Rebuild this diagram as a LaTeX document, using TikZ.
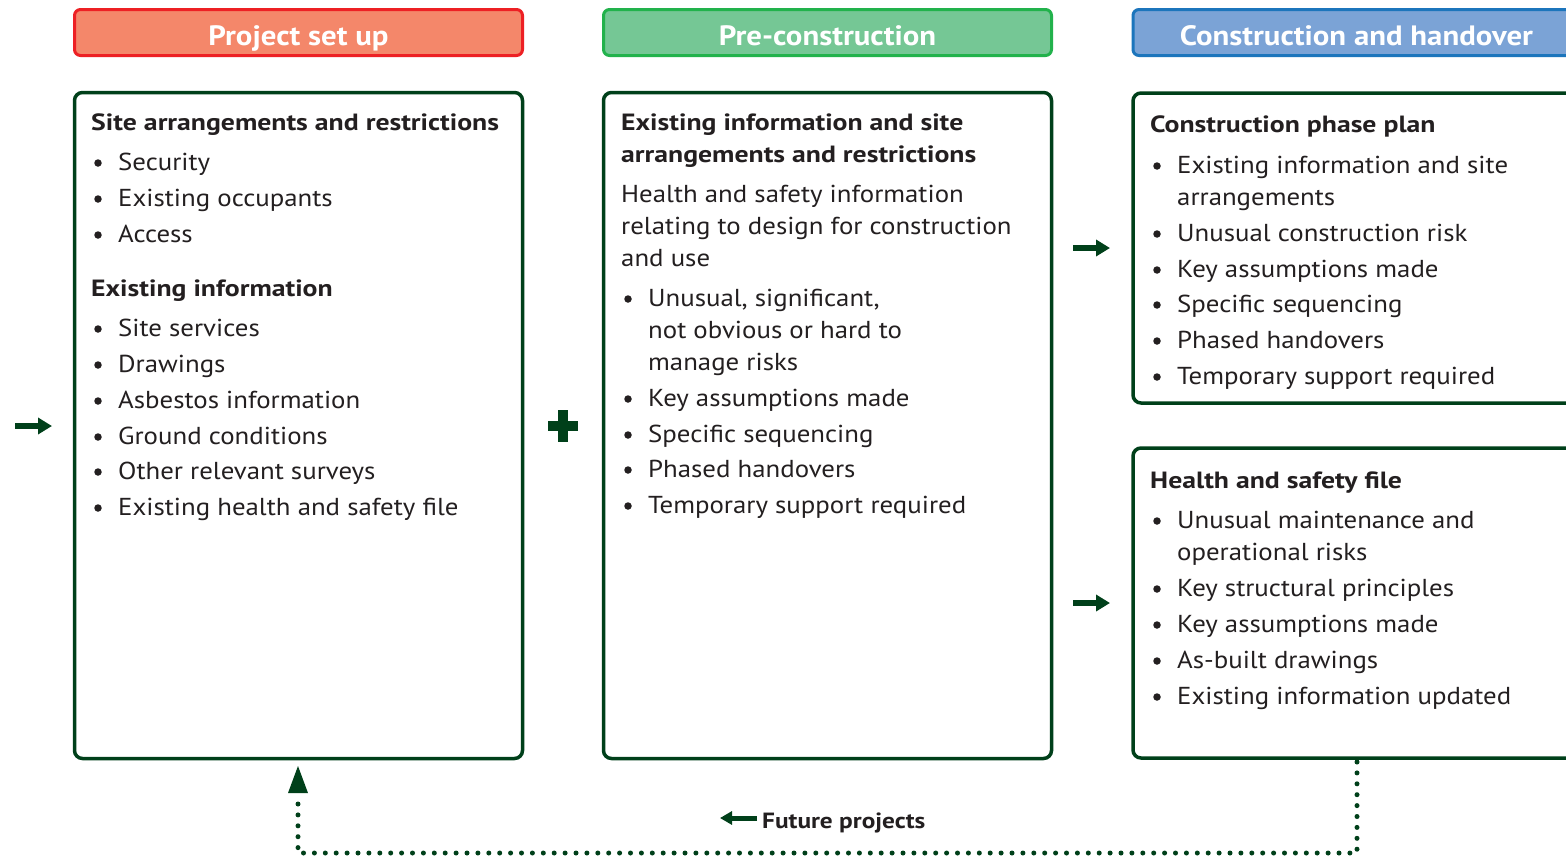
\documentclass[tikz,border=0pt]{standalone}
\usepackage{fontspec}
\setmainfont{PT Sans}
\newfontfamily\bodyf{PT Sans}[FakeStretch=1.095]
\newfontfamily\ttlf{PT Sans}[FakeStretch=1.18]
\newfontfamily\hdrf{PT Sans}[FakeStretch=1.1]
\newfontfamily\fpf{PT Sans}[FakeStretch=1.15]
\usetikzlibrary{arrows.meta}
\definecolor{txtc}{HTML}{231F20}
\definecolor{dgreen}{HTML}{00401A}
\definecolor{redfill}{HTML}{F4876A}
\definecolor{redline}{HTML}{ED2024}
\definecolor{grnfill}{HTML}{75C795}
\definecolor{grnline}{HTML}{22B24C}
\definecolor{blufill}{HTML}{7BA3D6}
\definecolor{bluline}{HTML}{1C75BC}
\tikzset{
  hdr/.style={draw, line width=3pt, rounded corners=6pt, minimum width=448pt, minimum height=46pt, inner sep=0pt},
  hdrtxt/.style={anchor=base, text=white, font=\hdrf\fontsize{28}{30}\selectfont\bfseries, inner sep=0pt},
  mainbox/.style={draw=dgreen, line width=3.5pt, rounded corners=8pt, minimum width=448pt, inner sep=0pt},
  ttl/.style={anchor=base west, text=txtc, font=\ttlf\fontsize{23.5}{28}\selectfont\bfseries, inner sep=0pt},
  txt/.style={anchor=base west, text=txtc, font=\bodyf\fontsize{24.5}{28}\selectfont, inner sep=0pt},
  bul/.style={circle, fill=txtc, minimum size=7.5pt, inner sep=0pt},
  garrow/.style={dgreen, line width=6.5pt, -{Triangle[length=14pt, width=16pt]}},
  dots/.style={dgreen, line width=5pt, line cap=round, dash pattern=on 0pt off 10.9pt}
}
\newcommand{\bitem}[4]{% name, x bullet, baseline, text
  \node[bul] (#1b) at (#2,#3-7) {};
  \node[txt] (#1) at (#2+20,#3) {#4};
}
\begin{document}
\begin{tikzpicture}[x=1pt,y=-1pt]
\clip (0,0) rectangle (1566,857);
\fill[white] (0,0) rectangle (1566,857);

% headers
\node[hdr, draw=redline, fill=redfill] (h1) at (298.5,32.5) {};
\node[hdrtxt] (h1t) at (298.5,45) {Project set up};
\node[hdr, draw=grnline, fill=grnfill] (h2) at (827.5,32.5) {};
\node[hdrtxt] (h2t) at (827.5,45) {Pre-construction};
\node[hdr, draw=bluline, fill=blufill, minimum width=467pt] (h3) at (1366.5,32.5) {};
\node[hdrtxt] (h3t) at (1356.5,45) {Construction and handover};

% main boxes
\node[mainbox, minimum height=666pt] (b1) at (298.5,425.5) {};
\node[mainbox, minimum height=666pt] (b2) at (827.5,425.5) {};
\node[mainbox, minimum height=310pt, minimum width=467pt] (b3) at (1366.5,248) {};
\node[mainbox, minimum height=310pt, minimum width=467pt] (b4) at (1366.5,603) {};

% box 1
\node[ttl] (t1) at (91,130) {Site arrangements and restrictions};
\bitem{a1}{98}{170}{Security}
\bitem{a2}{98}{206}{Existing occupants}
\bitem{a3}{98}{242}{Access}
\node[ttl] (t2) at (91,296) {Existing information};
\bitem{a4}{98}{336}{Site services}
\bitem{a5}{98}{372}{Drawings}
\bitem{a6}{98}{408}{Asbestos information}
\bitem{a7}{98}{444}{Ground conditions}
\bitem{a8}{98}{479}{Other relevant surveys}
\bitem{a9}{98}{515}{Existing health and safety file}

% box 2
\node[ttl] (t3) at (621,130) {Existing information and site};
\node[ttl] (t4) at (621,162) {arrangements and restrictions};
\node[txt] (p1) at (621,202) {Health and safety information};
\node[txt] (p2) at (621,234) {relating to design for construction};
\node[txt] (p3) at (621,266) {and use};
\bitem{c1}{628}{306}{Unusual, significant,}
\node[txt] (c1x) at (648,338) {not obvious or hard to};
\node[txt] (c1y) at (648,370) {manage risks};
\bitem{c2}{628}{406}{Key assumptions made}
\bitem{c3}{628}{442}{Specific sequencing}
\bitem{c4}{628}{477}{Phased handovers}
\bitem{c5}{628}{513}{Temporary support required}

% box 3
\node[ttl] (t5) at (1150,132) {Construction phase plan};
\bitem{d1}{1157}{173}{Existing information and site}
\node[txt] (d1x) at (1177,205) {arrangements};
\bitem{d2}{1157}{241}{Unusual construction risk}
\bitem{d3}{1157}{277}{Key assumptions made}
\bitem{d4}{1157}{312}{Specific sequencing}
\bitem{d5}{1157}{348}{Phased handovers}
\bitem{d6}{1157}{384}{Temporary support required}

% box 4
\node[ttl] (t6) at (1150,488) {Health and safety file};
\bitem{e1}{1157}{528}{Unusual maintenance and}
\node[txt] (e1x) at (1177,560) {operational risks};
\bitem{e2}{1157}{596}{Key structural principles}
\bitem{e3}{1157}{632}{Key assumptions made}
\bitem{e4}{1157}{668}{As-built drawings}
\bitem{e5}{1157}{704}{Existing information updated}

% arrows
\coordinate (in1) at (15,426);
\coordinate (in2) at (52,426);
\draw[garrow] (in1) -- (in2);
\coordinate (g1a) at (1073,248);
\coordinate (g1b) at (1110,248);
\draw[garrow] (g1a) -- (g1b);
\coordinate (g2a) at (1073,603);
\coordinate (g2b) at (1110,603);
\draw[garrow] (g2a) -- (g2b);

% plus
\fill[dgreen] (548,421) rectangle (578,431);
\fill[dgreen] (558,410) rectangle (568,442);

% feedback loop
\coordinate (f1) at (1357,762);
\coordinate (f2) at (1357,853);
\coordinate (f3) at (298,853);
\coordinate (f4) at (298,796);
\draw[dots] (f1) -- (f2) -- (f3) -- (f4);
\fill[dgreen] (298,766) -- (308,793) -- (288,793) -- cycle;

\node[anchor=base west, text=txtc, font=\fpf\fontsize{22}{26}\selectfont\bfseries, inner sep=0pt] (fp) at (762,828) {Future projects};
\coordinate (fa) at (757,818);
\coordinate (fb) at (720,818);
\draw[garrow, line width=5pt, -{Triangle[length=12pt, width=13pt]}] (fa) -- (fb);
\end{tikzpicture}
\end{document}
